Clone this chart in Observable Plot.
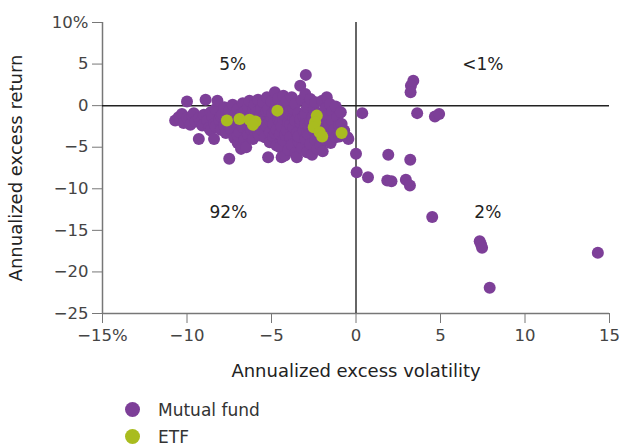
<!DOCTYPE html>
<html>
<head>
<meta charset="utf-8">
<script src="https://cdn.jsdelivr.net/npm/d3@7"></script>
<script src="https://cdn.jsdelivr.net/npm/@observablehq/plot@0.6"></script>
<style>
  body { margin: 0; background: #fff; font-family: "DejaVu Sans", sans-serif; }
  #legend { margin-top: 6px; padding-left: 125px; }
  .item { display: flex; align-items: center; height: 27px; font-size: 17px; color: #333; }
  .sw { width: 15px; height: 15px; border-radius: 50%; margin-right: 18px; }
  #chart svg g[aria-label$="tick label"] { font-size: 16.5px !important; fill: #444; }
  #chart svg g[aria-label$="axis label"] { font-size: 18px !important; fill: #222; }
</style>
</head>
<body>
<div id="chart"></div>
<div id="legend"></div>
<script>
// Series names and colours
const seriesNames = ["Mutual fund", "ETF"];
const seriesColors = ["#7D3F98", "#A9BC1F"];

// Mutual fund points: [annualized excess volatility, annualized excess return]
const mutualFund = [
  [-10.7,-1.8],[-10.5,-1.4],[-10.4,-1.7],[-10.3,-1.0],[-10.2,-2.1],[-10.0,0.5],[-10.0,-1.5],[-9.9,-1.8],
  [-9.8,-2.3],[-9.7,-1.2],[-9.6,-0.9],[-9.5,-1.9],[-9.3,-1.5],[-9.3,-4.0],[-9.2,-2.0],[-9.1,-2.4],
  [-9.0,-1.1],[-8.9,0.7],[-8.8,-1.8],[-8.7,-2.7],[-8.6,-0.8],[-8.6,-3.0],[-8.5,-1.3],[-8.4,-4.0],
  [-8.4,-2.2],[-8.3,-0.4],[-8.3,-2.5],[-8.2,0.6],[-8.1,-1.7],[-8.0,-2.9],[-8.0,-1.3],[-7.9,-1.0],
  [-7.8,-0.2],[-7.8,-2.4],[-7.7,-3.3],[-7.6,-1.5],[-7.6,-2.0],[-7.5,-6.4],[-7.5,-0.6],[-7.5,-2.5],
  [-7.4,-2.8],[-7.3,0.1],[-7.3,-1.6],[-7.2,-3.9],[-7.2,-1.2],[-7.1,-2.1],[-7.0,-4.5],[-7.0,-0.4],
  [-7.0,-3.6],[-6.9,-3.2],[-6.9,-1.4],[-6.8,-5.2],[-6.8,-1.0],[-6.8,-2.2],[-6.7,0.3],[-6.7,-2.6],
  [-6.6,-4.1],[-6.6,-0.7],[-6.5,-1.7],[-6.5,-5.0],[-6.4,-0.2],[-6.4,-3.5],[-6.3,0.6],[-6.3,-1.5],
  [-6.2,-2.3],[-6.2,-1.1],[-6.2,-2.9],[-6.1,-4.0],[-6.1,-0.6],[-6.0,0.1],[-6.0,-3.0],[-5.9,-0.8],
  [-5.9,-2.6],[-5.8,0.7],[-5.8,-1.6],[-5.8,-3.3],[-5.7,-3.6],[-5.7,-1.2],[-5.6,-0.3],[-5.6,-2.9],
  [-5.6,-2.2],[-5.5,0.4],[-5.5,-1.9],[-5.4,-3.8],[-5.4,-1.0],[-5.3,-2.4],[-5.3,-0.7],[-5.27,1.0],
  [-5.2,-0.4],[-5.2,-6.2],[-5.1,-3.2],[-5.1,-4.4],[-5.1,-1.8],[-5.0,-1.4],[-5.0,0.5],[-4.95,-0.9],
  [-4.9,-2.2],[-4.9,-3.7],[-4.8,1.6],[-4.8,-0.6],[-4.8,-3.3],[-4.7,-2.9],[-4.7,-4.8],[-4.6,0.9],
  [-4.6,-1.7],[-4.6,-1.0],[-4.5,-3.4],[-4.5,-5.0],[-4.5,-2.0],[-4.4,-6.2],[-4.4,-0.1],[-4.4,-2.5],
  [-4.3,1.2],[-4.3,-4.2],[-4.3,-1.6],[-4.2,-1.2],[-4.2,-6.0],[-4.2,-3.5],[-4.1,-3.0],[-4.1,0.5],
  [-4.0,-5.3],[-4.0,-2.0],[-4.0,-0.9],[-3.9,-0.6],[-3.9,-3.8],[-3.9,-2.3],[-3.8,1.0],[-3.8,-4.7],
  [-3.7,-1.5],[-3.7,-2.6],[-3.7,-0.4],[-3.6,-5.7],[-3.6,0.2],[-3.6,-1.8],[-3.5,-3.3],[-3.5,-6.2],
  [-3.4,-0.9],[-3.4,-4.3],[-3.4,-3.7],[-3.3,2.4],[-3.3,-2.0],[-3.3,-1.6],[-3.2,0.7],[-3.2,-5.1],
  [-3.1,-3.0],[-3.1,-1.3],[-3.0,1.4],[-2.97,3.7],[-3.0,-4.0],[-3.0,-1.0],[-3.0,-2.2],[-2.9,-0.2],
  [-2.9,-5.6],[-2.9,-3.3],[-2.8,-2.4],[-2.8,-3.5],[-2.7,0.8],[-2.7,-4.6],[-2.7,-1.9],[-2.6,-1.4],
  [-2.6,-5.9],[-2.6,-2.7],[-2.5,-3.0],[-2.5,-0.4],[-2.4,-4.1],[-2.4,0.4],[-2.3,-5.2],[-2.3,-2.2],
  [-2.2,-0.9],[-2.2,-1.3],[-2.2,-2.7],[-2.1,-3.6],[-2.1,-4.7],[-2.0,0.6],[-2.0,-1.7],[-1.97,-5.5],
  [-1.9,-2.8],[-1.8,-0.3],[-1.8,-4.1],[-1.73,1.0],[-1.7,-1.2],[-1.6,-3.4],[-1.6,-2.3],[-1.54,0.2],
  [-1.5,-4.5],[-1.4,-0.7],[-1.4,-1.8],[-1.3,-2.9],[-1.2,-3.8],[-1.2,-0.1],[-1.1,-1.4],[-1.0,-2.4],
  [-0.98,-3.7],[-0.9,-0.8],[-0.85,-2.2],[-0.7,-3.0],[-0.5,-3.8],[-0.45,-4.0],
  [0.37,-0.9],[3.62,-0.9],[4.67,-1.3],[4.92,-1.0],[3.39,3.0],[3.25,2.4],[3.23,1.6],
  [0.0,-5.8],[1.91,-5.9],[3.21,-6.5],[0.04,-8.0],[0.71,-8.6],[1.85,-9.0],[2.1,-9.1],
  [2.95,-8.9],[3.19,-9.6],[4.51,-13.4],[7.32,-16.3],[7.4,-16.7],[7.46,-17.1],[7.91,-21.9],[14.31,-17.7]
];

// ETF points: [annualized excess volatility, annualized excess return]
const etf = [
  [-7.64,-1.8],[-6.89,-1.6],[-6.3,-1.7],[-5.95,-1.9],[-6.1,-2.3],[-4.65,-0.6],
  [-2.32,-1.2],[-2.42,-2.0],[-2.5,-2.6],[-2.15,-3.2],[-2.0,-3.7],[-0.85,-3.3]
];

// Axis ticks
const xTicks = [-15, -10, -5, 0, 5, 10, 15];
const yTicks = [10, 5, 0, -5, -10, -15, -20, -25];

// Quadrant share labels
const quadLabels = ["5%", "<1%", "92%", "2%"];
const quadX = [-7.3, 7.5, -7.55, 7.8];
const quadY = [5.0, 5.0, -12.8, -12.8];

const fmtNum = d => (d < 0 ? "\u2212" + Math.abs(d) : String(d));
const xFmt = d => fmtNum(d) + (d === -15 ? "%" : "");
const yFmt = d => fmtNum(d) + (d === 10 ? "%" : "");

const mfData = mutualFund.map(([x, y]) => ({x, y}));
const etfData = etf.map(([x, y]) => ({x, y}));
const quadData = quadLabels.map((t, i) => ({t, x: quadX[i], y: quadY[i]}));

const chart = Plot.plot({
  width: 620,
  height: 390,
  marginLeft: 102,
  marginRight: 11,
  marginTop: 22,
  marginBottom: 77,
  style: { fontFamily: "DejaVu Sans, sans-serif", fontSize: "16px", color: "#444", background: "#fff" },
  x: { domain: [-15, 15] },
  y: { domain: [-25, 10] },
  marks: [
    Plot.axisX({ ticks: xTicks, tickFormat: xFmt, tickSize: 10, tickPadding: 6, stroke: "#777",
      label: "Annualized excess volatility", labelAnchor: "center", labelArrow: "none", labelOffset: 63 }),
    Plot.axisY({ ticks: yTicks, tickFormat: yFmt, tickSize: 10, tickPadding: 4, stroke: "#777",
      label: "Annualized excess return", labelAnchor: "center", labelArrow: "none", labelOffset: 93 }),
    Plot.ruleX([-15], { stroke: "#777", strokeWidth: 1.5 }),
    Plot.ruleY([-25], { stroke: "#777", strokeWidth: 1.5 }),
    Plot.ruleX([0], { stroke: "#333", strokeWidth: 1.5 }),
    Plot.ruleY([0], { stroke: "#222", strokeWidth: 1.5 }),
    Plot.dot(mfData, { x: "x", y: "y", r: 6, fill: seriesColors[0], stroke: "none" }),
    Plot.dot(etfData, { x: "x", y: "y", r: 6, fill: seriesColors[1], stroke: "none" }),
    Plot.text(quadData, { x: "x", y: "y", text: "t", fontSize: 17, fill: "#222" })
  ]
});
document.getElementById("chart").appendChild(chart);

const legend = document.getElementById("legend");
seriesNames.forEach((name, i) => {
  const item = document.createElement("div");
  item.className = "item";
  const sw = document.createElement("span");
  sw.className = "sw";
  sw.style.background = seriesColors[i];
  const label = document.createElement("span");
  label.textContent = name;
  item.appendChild(sw);
  item.appendChild(label);
  legend.appendChild(item);
});
</script>
</body>
</html>
